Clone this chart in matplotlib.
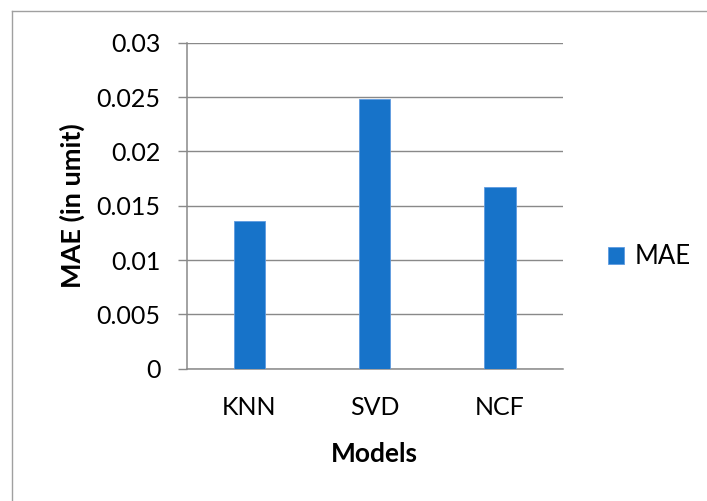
import numpy as np
import matplotlib
matplotlib.use('Agg')
import matplotlib.pyplot as plt
from matplotlib.lines import Line2D

# MAE per model
modelos = ['KNN', 'SVD', 'NCF']
mae = [0.01355, 0.02478, 0.01668]
yticks = [0, 0.005, 0.01, 0.015, 0.02, 0.025, 0.03]
ylabels = ['0', '0.005', '0.01', '0.015', '0.02', '0.025', '0.03']

plt.rcParams['font.family'] = ['Lato', 'DejaVu Sans']

W, H = 707, 501
fig = plt.figure(figsize=(W/100, H/100), dpi=100)
ax = fig.add_axes([186.7/W, 1-368.7/H, 376/W, 326/H])

gris = '#898989'
azul = '#1773C9'

x = np.arange(len(modelos))
ax.bar(x, mae, width=0.25, color=azul, edgecolor='#5E9BE0', linewidth=0.6,
       label='MAE', zorder=3)

ax.set_xlim(-0.5, 2.5)
ax.set_ylim(0, 0.03)
ax.set_yticks(yticks)
ax.set_yticklabels(ylabels)
ax.set_xticks(x)
ax.set_xticklabels(modelos)

ax.grid(axis='y', color=gris, linewidth=1.0, zorder=0)
for s in ['top', 'right']:
    ax.spines[s].set_visible(False)
for s in ['left', 'bottom']:
    ax.spines[s].set_color(gris)
    ax.spines[s].set_linewidth(1.1)

ax.tick_params(axis='y', length=6.8, width=1.0, color=gris, pad=12,
               labelsize=18)
ax.tick_params(axis='x', length=0, pad=20, labelsize=18)

ax.set_xlabel('Models', fontsize=19, fontweight='bold', labelpad=16)
ax.set_ylabel('MAE (in umit)', fontsize=19.5, fontweight='bold', labelpad=8)

ax.legend(loc='center left', bbox_to_anchor=(608/W, 1-257/H),
          bbox_transform=fig.transFigure, frameon=False, fontsize=18.5,
          handlelength=0.62, handleheight=0.62, handletextpad=0.4,
          borderpad=0, borderaxespad=0)

# marco exterior
x0, y0 = 12.3/W, 1-10.7/H
fig.add_artist(Line2D([x0, x0], [0, y0], color='#A0A0A0', lw=1.0,
                      transform=fig.transFigure))
fig.add_artist(Line2D([x0, 1], [y0, y0], color='#A0A0A0', lw=1.0,
                      transform=fig.transFigure))

fig.savefig('out.png', dpi=100)
